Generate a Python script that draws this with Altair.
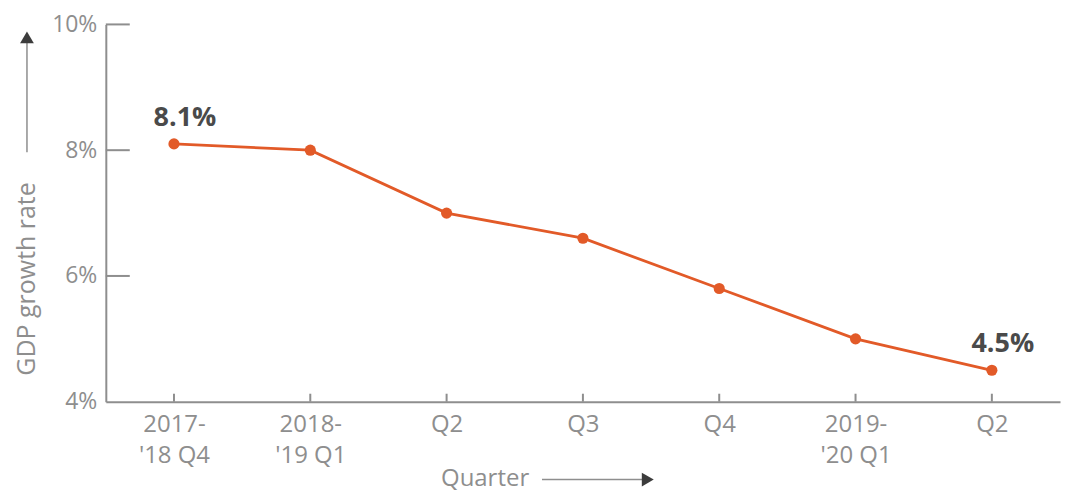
import json
import altair as alt
import pandas as pd

# ---- data ----
quarter_keys = ["2017-18 Q4", "2018-19 Q1", "2018-19 Q2", "2018-19 Q3",
                "2018-19 Q4", "2019-20 Q1", "2019-20 Q2"]
tick_labels = [["2017-", "'18 Q4"], ["2018-", "'19 Q1"], ["Q2"], ["Q3"],
               ["Q4"], ["2019-", "'20 Q1"], ["Q2"]]
gdp_growth = [8.1, 8.0, 7.0, 6.6, 5.8, 5.0, 4.5]
y_ticks = [4, 6, 8, 10]
highlight = ["2017-18 Q4", "2019-20 Q2"]

df = pd.DataFrame({"quarter": quarter_keys, "gdp": gdp_growth})
df["label"] = [f"{v:.1f}%" for v in gdp_growth]
df_hl = df[df["quarter"].isin(highlight)]
df_yt = pd.DataFrame({"v": [t for t in y_ticks if t != 4]})
dummy = pd.DataFrame({"a": [0]})

W, H = 956, 378
ORANGE = "#e25a28"
GREY = "#8e8e8e"
DARK = "#4a4a4a"
FONT = "Open Sans"

label_map = json.dumps(dict(zip(quarter_keys, tick_labels)))

x_enc = alt.X("quarter:O", sort=quarter_keys,
              scale=alt.Scale(type="point", padding=0.5),
              axis=alt.Axis(title=None, ticks=False, grid=False,
                            labelExpr=label_map + "[datum.value]",
                            labelAngle=0, labelFontSize=24, labelColor=GREY,
                            labelFont=FONT, labelPadding=11, labelLineHeight=31,
                            labelBaseline="top",
                            domainColor=GREY, domainWidth=2))
y_enc = alt.Y("gdp:Q", scale=alt.Scale(domain=[4, 10]),
              axis=alt.Axis(title=None, values=y_ticks, ticks=False, grid=False,
                            labelExpr="datum.value + '%'", labelFontSize=23,
                            labelColor=GREY, labelFont=FONT, labelPadding=9,
                            domainColor=GREY, domainWidth=2))

line = alt.Chart(df).mark_line(color=ORANGE, strokeWidth=2.8).encode(x=x_enc, y=y_enc)
pts = alt.Chart(df).mark_circle(color=ORANGE, size=125, opacity=1).encode(
    x=alt.X("quarter:O", sort=quarter_keys), y="gdp:Q")
ann = alt.Chart(df_hl).mark_text(fontSize=27, fontWeight="bold", color=DARK, font=FONT,
                                 dx=11, dy=-26, baseline="middle").encode(
    x=alt.X("quarter:O", sort=quarter_keys), y="gdp:Q", text="label:N")

xticks = alt.Chart(df).mark_rule(color=GREY, strokeWidth=2).encode(
    x=alt.X("quarter:O", sort=quarter_keys), y=alt.value(H), y2=alt.value(H - 8))
yticks = alt.Chart(df_yt).mark_rule(color=GREY, strokeWidth=2).encode(
    y="v:Q", x=alt.value(0), x2=alt.value(24))

# axis titles with arrows
ytitle = alt.Chart(dummy).mark_text(text="GDP growth rate", angle=270, fontSize=25,
                                    color=GREY, font=FONT, baseline="middle").encode(
    x=alt.value(-79), y=alt.value(255))
yarrow = alt.Chart(dummy).mark_rule(color=GREY, strokeWidth=1.5).encode(
    x=alt.value(-79), y=alt.value(128), y2=alt.value(18))
yhead = alt.Chart(dummy).mark_point(shape="triangle-up", filled=True, color="#3c3c3c",
                                    size=190, opacity=1).encode(
    x=alt.value(-79), y=alt.value(13))
xtitle = alt.Chart(dummy).mark_text(text="Quarter", fontSize=24, color=GREY, font=FONT,
                                    baseline="middle").encode(
    x=alt.value(380), y=alt.value(455))
xarrow = alt.Chart(dummy).mark_rule(color=GREY, strokeWidth=1.5).encode(
    y=alt.value(456), x=alt.value(437), x2=alt.value(538))
xhead = alt.Chart(dummy).mark_point(shape="triangle-right", filled=True, color="#3c3c3c",
                                    size=190, opacity=1).encode(
    x=alt.value(543), y=alt.value(456))

chart = alt.layer(line, pts, ann, xticks, yticks, ytitle, yarrow, yhead,
                  xtitle, xarrow, xhead).properties(
    width=W, height=H,
    background="white",
    autosize=alt.AutoSizeParams(type="none"),
    padding={"left": 98, "top": 16, "right": 5, "bottom": 91},
).configure_view(stroke=None)

chart.save("out.html", embed_options={"renderer": "svg", "actions": False})
